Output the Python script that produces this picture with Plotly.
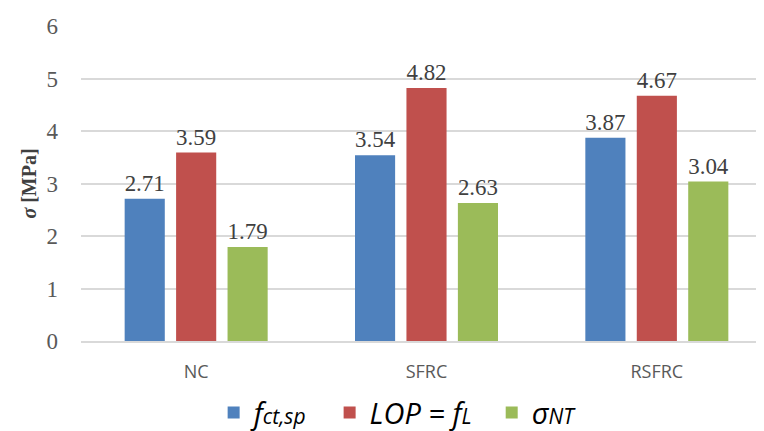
import plotly.graph_objects as go

categories = ["NC", "SFRC", "RSFRC"]
f_ct_sp = [2.71, 3.54, 3.87]
lop_fl = [3.59, 4.82, 4.67]
sigma_nt = [1.79, 2.63, 3.04]
series_names = [
    "<i>f<span style='font-size:21px'>ct,sp</span></i>&nbsp;&nbsp;",
    "<i>LOP = f<span style='font-size:21px'>L</span></i>&nbsp;&nbsp;",
    "<i>σ<span style='font-size:21px'>NT</span></i>",
]
colors = ["#4F81BD", "#C0504D", "#9BBB59"]

fig = go.Figure()
for name, vals, col in zip(series_names, [f_ct_sp, lop_fl, sigma_nt], colors):
    fig.add_trace(go.Bar(
        x=categories, y=vals, name=name,
        marker=dict(color=col, line=dict(width=0)),
        text=[f"{v:.2f}" for v in vals], textposition="outside",
        textfont=dict(family="Liberation Serif", size=24, color="#404040"),
        cliponaxis=False,
    ))

fig.update_layout(
    width=764, height=431,
    margin=dict(l=73, r=0, t=18, b=98, autoexpand=False),
    paper_bgcolor="white", plot_bgcolor="white",
    barmode="group", bargap=0.33, bargroupgap=0.22,
    showlegend=True,
    legend=dict(orientation="h", x=0.51, xref="container", xanchor="center",
                y=0.002, yref="container", yanchor="bottom",
                font=dict(family="Open Sans", size=29, color="#000000"),
                itemwidth=30, tracegroupgap=0),
    xaxis=dict(range=[-0.5, 2.5], showgrid=False, showline=True,
               linecolor="#D9D9D9", linewidth=1.5, ticks="",
               tickfont=dict(family="Open Sans", size=18, color="#595959"),
               ticklabelstandoff=14),
    yaxis=dict(range=[0, 6], dtick=1, showgrid=True, gridcolor="#D9D9D9",
               gridwidth=1.5, zeroline=False, showline=False,
               tickfont=dict(family="Liberation Serif", size=23, color="#595959"),
               ticklabelstandoff=22,
               title=dict(text="<b><i>σ</i> [MPa]</b>", standoff=4,
                          font=dict(family="Liberation Serif", size=20, color="#404040"))),
)

fig.write_html("out.html")
